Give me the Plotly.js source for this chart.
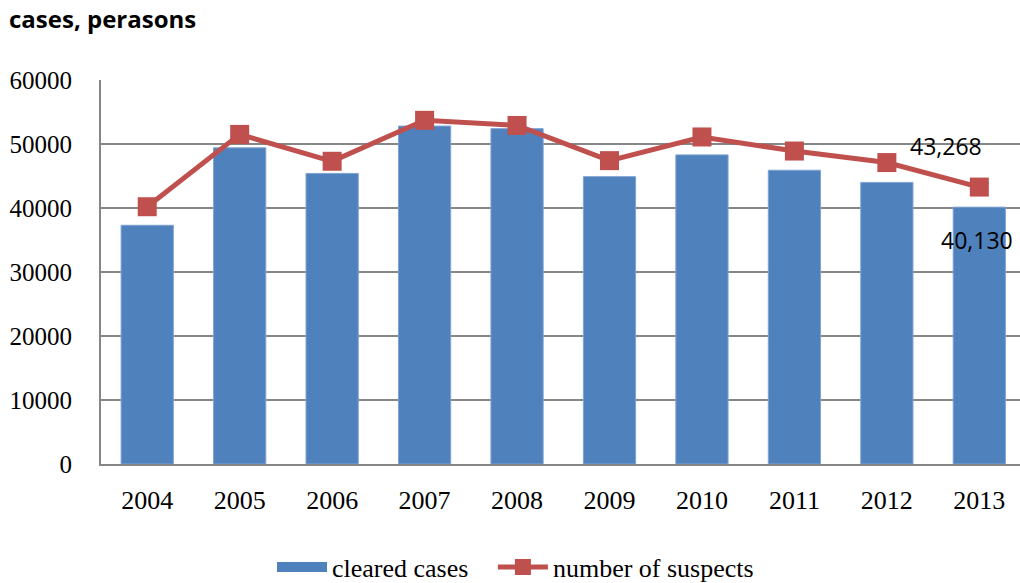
<!DOCTYPE html>
<html>
<head>
<meta charset="utf-8">
<script src="https://cdn.plot.ly/plotly-3.0.1.min.js"></script>
<style>
  html, body { margin: 0; padding: 0; background: #fff; overflow: hidden; }
  #chart { width: 1020px; height: 583px; }
</style>
</head>
<body>
<div id="chart"></div>
<script>
// Yearly figures
const years = ['2004', '2005', '2006', '2007', '2008', '2009', '2010', '2011', '2012', '2013'];
const clearedCases = [37300, 49400, 45400, 52800, 52400, 44900, 48300, 45900, 44000, 40130];
const suspects = [40200, 51500, 47300, 53700, 52900, 47400, 51100, 48900, 47100, 43268];
const yTicks = [0, 10000, 20000, 30000, 40000, 50000, 60000];

const serif = 'Liberation Serif, Times New Roman, serif';
const sans = 'Open Sans, Noto Sans, sans-serif';
const last = years.length - 1;
const blue = '#4F81BD';
const red = '#C0504D';

const traces = [
  {
    type: 'bar',
    name: 'cleared cases',
    x: years,
    y: clearedCases,
    width: 0.565,
    marker: { color: blue, line: { color: '#7FA3D3', width: 1 } },
    showlegend: false,
    hoverinfo: 'skip'
  },
  // legend key for the bars: a wide solid swatch
  {
    type: 'scatter',
    mode: 'lines',
    name: 'cleared cases&nbsp;&nbsp;&nbsp;',
    x: [null],
    y: [null],
    line: { color: blue, width: 15 },
    hoverinfo: 'skip'
  },
  {
    type: 'scatter',
    mode: 'lines+markers',
    name: 'number of suspects',
    x: years,
    y: suspects,
    line: { color: red, width: 5 },
    marker: { symbol: 'square', size: 19, color: red },
    hoverinfo: 'skip'
  }
];

const fmt = v => v.toLocaleString('en-US');

const layout = {
  width: 1020,
  height: 583,
  margin: { l: 101, r: 0, t: 80, b: 119 },
  paper_bgcolor: '#ffffff',
  plot_bgcolor: '#ffffff',
  showlegend: true,
  hovermode: false,
  title: {
    text: '<b>cases, perasons</b>',
    xref: 'container', yref: 'container',
    x: 9 / 1020, xanchor: 'left',
    y: 1 - 20 / 583, yanchor: 'middle',
    font: { family: sans, size: 24, color: '#000' }
  },
  xaxis: {
    type: 'category',
    range: [-0.5, 9.44],
    showgrid: false,
    showline: true,
    linecolor: '#868686',
    linewidth: 2,
    ticks: '',
    ticklabelstandoff: 12,
    tickfont: { family: serif, size: 26, color: '#000' },
    fixedrange: true
  },
  yaxis: {
    range: [0, 60000],
    tickvals: yTicks,
    ticktext: yTicks.map(String),
    showgrid: true,
    gridcolor: '#868686',
    gridwidth: 2,
    zeroline: false,
    showline: true,
    linecolor: '#868686',
    linewidth: 2,
    ticks: '',
    ticklabelstandoff: 22,
    tickfont: { family: serif, size: 25, color: '#000' },
    fixedrange: true
  },
  legend: {
    orientation: 'h',
    xref: 'container', yref: 'container',
    x: 272 / 1020, xanchor: 'left',
    y: (583 - 567) / 583, yanchor: 'middle',
    font: { family: serif, size: 26, color: '#000' },
    itemwidth: 50,
    tracegroupgap: 0,
    traceorder: 'normal'
  },
  annotations: [
    {
      x: last, y: suspects[last],
      xref: 'x', yref: 'y',
      text: fmt(suspects[last]),
      showarrow: false,
      xshift: -33, yshift: 41,
      font: { family: sans, size: 23, color: '#000' }
    },
    {
      x: last, y: clearedCases[last],
      xref: 'x', yref: 'y',
      text: fmt(clearedCases[last]),
      showarrow: false,
      xshift: -2, yshift: -33,
      font: { family: sans, size: 23, color: '#000' }
    }
  ]
};

Plotly.newPlot('chart', traces, layout, { displayModeBar: false, staticPlot: true });
</script>
</body>
</html>
